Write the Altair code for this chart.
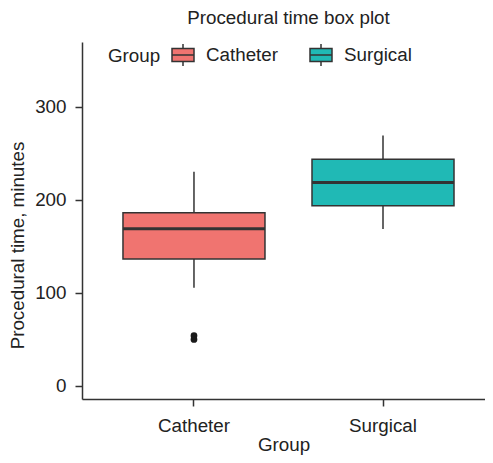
import altair as alt
import pandas as pd

# ---- data ----
groups = ["Catheter", "Surgical"]
lower_whisker = [105.5, 168.5]
q1 = [136.5, 193.5]
median = [169.0, 218.5]
q3 = [186.0, 243.5]
upper_whisker = [230.0, 269.0]
outlier_group = ["Catheter", "Catheter"]
outlier_value = [50.0, 54.0]
y_ticks = [0, 100, 200, 300]
colors = ["#F07470", "#20B9B5"]

FONT = "Liberation Sans"
FS = 18.8
TXT = "#222222"
LINE = "#333333"

stats = pd.DataFrame({
    "Group": groups, "lower": lower_whisker, "q1": q1,
    "median": median, "q3": q3, "upper": upper_whisker,
})
outliers = pd.DataFrame({"Group": outlier_group, "value": outlier_value})

xscale = alt.Scale(domain=groups, paddingInner=0, paddingOuter=0.066, align=0.7)
yscale = alt.Scale(domain=[-14, 369.5], nice=False, zero=False)

x_enc = alt.X("Group:N", scale=xscale, title="Group",
              axis=alt.Axis(labelAngle=0, tickSize=7, labelPadding=10,
                            titlePadding=1))
y_axis = alt.Axis(values=y_ticks, tickSize=7, labelPadding=9,
                  title="Procedural time, minutes", titlePadding=7,
                  titleY=203)

legend_path = "M-1,-0.6H1V0.6H-1Z M-1,0H1 M0,-0.6V-1 M0,0.6V1"

base = alt.Chart(stats)

whisk_low = base.mark_rule(color=LINE, strokeWidth=1.5).encode(
    x=x_enc,
    y=alt.Y("lower:Q", scale=yscale, axis=y_axis),
    y2="q1:Q",
)
whisk_up = base.mark_rule(color=LINE, strokeWidth=1.5).encode(
    x=x_enc, y=alt.Y("q3:Q", scale=yscale), y2="upper:Q",
)
box = base.mark_bar(size=142, stroke=LINE, strokeWidth=1.5).encode(
    x=x_enc,
    y=alt.Y("q1:Q", scale=yscale),
    y2="q3:Q",
    fill=alt.Fill("Group:N", scale=alt.Scale(domain=groups, range=colors),
                  legend=alt.Legend(
                      title="Group", orient="none", legendX=26, legendY=1,
                      direction="horizontal", titleOrient="left",
                      symbolType=legend_path, symbolSize=484,
                      symbolStrokeColor=LINE, symbolStrokeWidth=1.5,
                      labelOffset=11, columnPadding=28, titlePadding=10,
                  )),
)
med = base.mark_tick(size=142, thickness=3, color=LINE, opacity=1).encode(
    x=x_enc, y=alt.Y("median:Q", scale=yscale),
)
pts = alt.Chart(outliers).mark_circle(size=45, color="#1a1a1a", opacity=1).encode(
    x=x_enc, y=alt.Y("value:Q", scale=yscale),
)

chart = alt.layer(whisk_low, whisk_up, box, med, pts).properties(
    width=403,
    height=357,
    title=alt.Title("Procedural time box plot", fontSize=FS, font=FONT,
                    fontWeight="normal", color=TXT, anchor="middle",
                    baseline="alphabetic", offset=1, dy=2, dx=5),
    autosize=alt.AutoSizeParams(type="none"),
    padding={"left": 74, "top": 34, "right": 0, "bottom": 56},
).configure_view(stroke=None).configure_axis(
    grid=False, domainColor=LINE, domainWidth=1.5, tickColor=LINE,
    tickWidth=1.5, labelFont=FONT, labelFontSize=FS, labelColor=TXT,
    titleFont=FONT, titleFontSize=FS, titleColor=TXT, titleFontWeight="normal",
).configure_legend(
    labelFont=FONT, labelFontSize=FS, labelColor=TXT,
    titleFont=FONT, titleFontSize=FS, titleColor=TXT, titleFontWeight="normal",
)

chart.save("out.html", embed_options={"renderer": "svg", "actions": False})
